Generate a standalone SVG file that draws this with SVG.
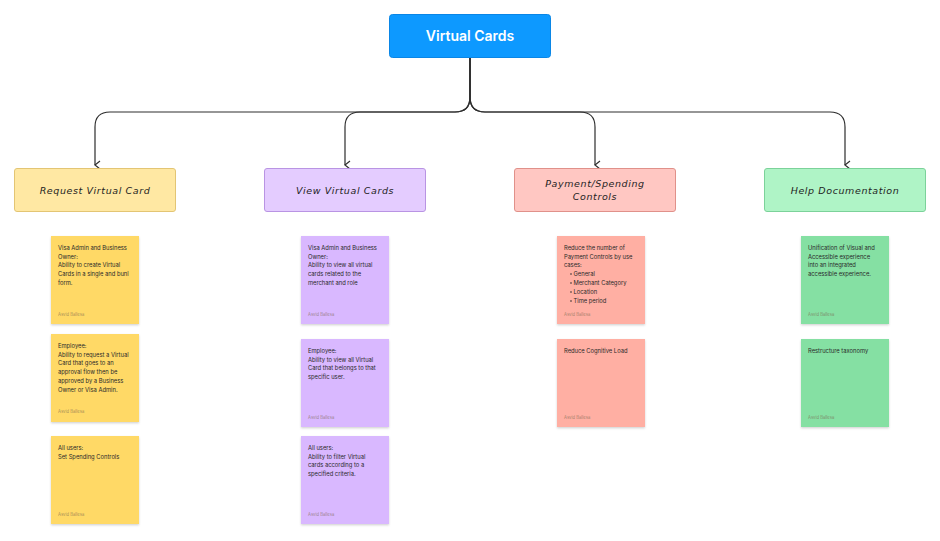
<svg xmlns="http://www.w3.org/2000/svg" width="940" height="541" viewBox="0 0 940 541">
<defs>
<style>
.bg{fill:#ffffff}
.title{fill:#0D99FF;stroke:#0A86E6;stroke-width:1}
.titletxt{font-family:Inter,"Liberation Sans",sans-serif;font-weight:600;font-size:14px;fill:#ffffff}
.hdr{stroke-width:1}
.hdrtxt{font-family:"DejaVu Sans","Liberation Sans",sans-serif;font-style:italic;font-size:9.5px;fill:#1e1e1e;letter-spacing:0.6px}
.conn{fill:none;stroke:#2e2e2e;stroke-width:1.2}
.t{font-family:Inter,"Liberation Sans",sans-serif;font-size:5.8px;fill:#2a2a2a}
.au{font-family:Inter,"Liberation Sans",sans-serif;font-size:4.2px;fill:#7a6a50;fill-opacity:0.7}
.y{fill:#FFD966}.p{fill:#D9B8FF}.r{fill:#FFAFA3}.g{fill:#85E0A3}
</style>
<filter id="sh" x="-20%" y="-20%" width="140%" height="140%">
<feDropShadow dx="0" dy="1.2" stdDeviation="1.2" flood-color="#000000" flood-opacity="0.18"/>
</filter>
<marker id="ar" markerWidth="10" markerHeight="10" refX="5" refY="6" orient="auto" markerUnits="userSpaceOnUse" viewBox="0 0 10 10">
<path d="M1 1 L5 6 L9 1" fill="none" stroke="#2e2e2e" stroke-width="1.2"/>
</marker>
</defs>
<rect class="bg" x="0" y="0" width="940" height="541"/>

<g id="connectors">
<path class="conn" d="M470 58 V97 Q470 112 455 112 H110 Q95 112 95 127 V165" marker-end="url(#ar)"/>
<path class="conn" d="M470 58 V97 Q470 112 455 112 H360 Q345 112 345 127 V165" marker-end="url(#ar)"/>
<path class="conn" d="M470 58 V97 Q470 112 485 112 H580 Q595 112 595 127 V165" marker-end="url(#ar)"/>
<path class="conn" d="M470 58 V97 Q470 112 485 112 H830 Q845 112 845 127 V165" marker-end="url(#ar)"/>
</g>

<g id="root">
<rect class="title" x="389.5" y="14.5" width="161" height="43" rx="3"/>
<text class="titletxt" x="470" y="41" text-anchor="middle">Virtual Cards</text>
</g>

<g id="h-request">
<rect class="hdr" x="14.5" y="168.5" width="161" height="43" rx="2.5" fill="#FFE8A3" stroke="#E3C574"/>
<text class="hdrtxt" x="95" y="193.5" text-anchor="middle">Request Virtual Card</text>
</g>
<g id="h-view">
<rect class="hdr" x="264.5" y="168.5" width="161" height="43" rx="2.5" fill="#E4CCFF" stroke="#B994E3"/>
<text class="hdrtxt" x="345" y="193.5" text-anchor="middle">View Virtual Cards</text>
</g>
<g id="h-payment">
<rect class="hdr" x="514.5" y="168.5" width="161" height="43" rx="2.5" fill="#FFC7C2" stroke="#E0918A"/>
<text class="hdrtxt" x="595" y="187" text-anchor="middle">Payment/Spending</text>
<text class="hdrtxt" x="595" y="200" text-anchor="middle">Controls</text>
</g>
<g id="h-help">
<rect class="hdr" x="764.5" y="168.5" width="161" height="43" rx="2.5" fill="#AFF4C6" stroke="#7CD29A"/>
<text class="hdrtxt" x="845" y="193.5" text-anchor="middle">Help Documentation</text>
</g>

<!-- Column 1 -->
<g id="n-req-1">
<rect class="y" x="51" y="236" width="88" height="88" filter="url(#sh)"/>
<text class="t" x="58" y="250"><tspan x="58">Visa Admin and Business</tspan><tspan x="58" dy="8.7">Owner:</tspan><tspan x="58" dy="8.7">Ability to create Virtual</tspan><tspan x="58" dy="8.7">Cards in a single and bunl</tspan><tspan x="58" dy="8.7">form.</tspan></text>
<text class="au" x="58" y="316">Asvid Ballesa</text>
</g>
<g id="n-req-2">
<rect class="y" x="51" y="334" width="88" height="88" filter="url(#sh)"/>
<text class="t" x="58" y="348"><tspan x="58">Employee:</tspan><tspan x="58" dy="8.7">Ability to request a Virtual</tspan><tspan x="58" dy="8.7">Card that goes to an</tspan><tspan x="58" dy="8.7">approval flow then be</tspan><tspan x="58" dy="8.7">approved by a Business</tspan><tspan x="58" dy="8.7">Owner or Visa Admin.</tspan></text>
<text class="au" x="58" y="413">Asvid Ballesa</text>
</g>
<g id="n-req-3">
<rect class="y" x="51" y="436" width="88" height="88" filter="url(#sh)"/>
<text class="t" x="58" y="450"><tspan x="58">All users:</tspan><tspan x="58" dy="8.7">Set Spending Controls</tspan></text>
<text class="au" x="58" y="516">Asvid Ballesa</text>
</g>

<!-- Column 2 -->
<g id="n-view-1">
<rect class="p" x="301" y="236" width="88" height="88" filter="url(#sh)"/>
<text class="t" x="308" y="250"><tspan x="308">Visa Admin and Business</tspan><tspan x="308" dy="8.7">Owner:</tspan><tspan x="308" dy="8.7">Ability to view all virtual</tspan><tspan x="308" dy="8.7">cards related to the</tspan><tspan x="308" dy="8.7">merchant and role</tspan></text>
<text class="au" x="308" y="316">Asvid Ballesa</text>
</g>
<g id="n-view-2">
<rect class="p" x="301" y="339" width="88" height="88" filter="url(#sh)"/>
<text class="t" x="308" y="353"><tspan x="308">Employee:</tspan><tspan x="308" dy="8.7">Ability to view all Virtual</tspan><tspan x="308" dy="8.7">Card that belongs to that</tspan><tspan x="308" dy="8.7">specific user.</tspan></text>
<text class="au" x="308" y="419">Asvid Ballesa</text>
</g>
<g id="n-view-3">
<rect class="p" x="301" y="436" width="88" height="88" filter="url(#sh)"/>
<text class="t" x="308" y="450"><tspan x="308">All users:</tspan><tspan x="308" dy="8.7">Ability to filter Virtual</tspan><tspan x="308" dy="8.7">cards according to a</tspan><tspan x="308" dy="8.7">specified criteria.</tspan></text>
<text class="au" x="308" y="516">Asvid Ballesa</text>
</g>

<!-- Column 3 -->
<g id="n-pay-1">
<rect class="r" x="557" y="236" width="88" height="88" filter="url(#sh)"/>
<text class="t" x="564" y="250"><tspan x="564">Reduce the number of</tspan><tspan x="564" dy="8.7">Payment Controls by use</tspan><tspan x="564" dy="8.7">cases:</tspan></text>
<g class="t">
<circle cx="571" cy="274" r="0.8" fill="#2a2a2a"/>
<circle cx="571" cy="283" r="0.8" fill="#2a2a2a"/>
<circle cx="571" cy="292" r="0.8" fill="#2a2a2a"/>
<circle cx="571" cy="301" r="0.8" fill="#2a2a2a"/>
</g>
<text class="t" x="573.5" y="276"><tspan x="573.5">General</tspan><tspan x="573.5" dy="9">Merchant Category</tspan><tspan x="573.5" dy="9">Location</tspan><tspan x="573.5" dy="9">Time period</tspan></text>
<text class="au" x="564" y="316">Asvid Ballesa</text>
</g>
<g id="n-pay-2">
<rect class="r" x="557" y="339" width="88" height="88" filter="url(#sh)"/>
<text class="t" x="564" y="353">Reduce Cognitive Load</text>
<text class="au" x="564" y="419">Asvid Ballesa</text>
</g>

<!-- Column 4 -->
<g id="n-help-1">
<rect class="g" x="801" y="236" width="88" height="88" filter="url(#sh)"/>
<text class="t" x="808" y="250"><tspan x="808">Unification of Visual and</tspan><tspan x="808" dy="8.7">Accessible experience</tspan><tspan x="808" dy="8.7">into an integrated</tspan><tspan x="808" dy="8.7">accessible experience.</tspan></text>
<text class="au" x="808" y="316">Asvid Ballesa</text>
</g>
<g id="n-help-2">
<rect class="g" x="801" y="339" width="88" height="88" filter="url(#sh)"/>
<text class="t" x="808" y="353">Restructure taxonomy</text>
<text class="au" x="808" y="419">Asvid Ballesa</text>
</g>
</svg>
